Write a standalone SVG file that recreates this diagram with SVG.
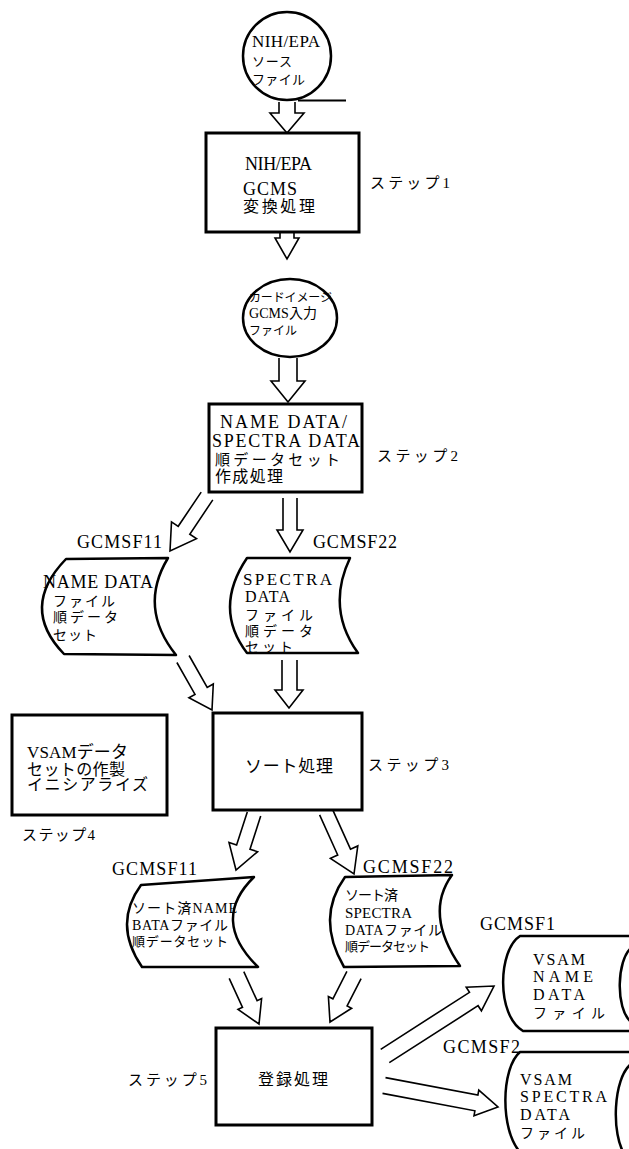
<svg xmlns="http://www.w3.org/2000/svg" width="629" height="1149" viewBox="0 0 629 1149">
<style>
text{font-family:"Liberation Serif","Noto Sans CJK JP",serif;fill:#000}
.box{fill:#fff;stroke:#000;stroke-width:3}
.cir{fill:#fff;stroke:#000;stroke-width:2.5}
.doc{fill:#fff;stroke:#000;stroke-width:2.5;stroke-linejoin:round}
.arr{fill:none;stroke:#000;stroke-width:1.6;stroke-linejoin:miter}
.ln{fill:none;stroke:#000;stroke-width:2}
</style>
<rect width="629" height="1149" fill="#fff"/>
<g id="connectors">
<polyline class="arr" points="279,102 279,113 270,113 287,133 304,113 295,113 295,102"/>
<polyline class="arr" points="280,233 280,238 275,238 287,259 299,238 294,238 294,233"/>
<polyline class="arr" points="279,358 279,381 271,381 288,402 305,381 297,381 297,358"/>
<polyline class="arr" points="212.8,499.9 189.8,534.2 196.5,538.7 170,551 171.5,521.9 178.2,526.3 201.2,492.1"/>
<polyline class="arr" points="283,498 283,530 277,530 290,552 303,530 297,530 297,498"/>
<polyline class="arr" points="189.1,655.5 207.2,687.4 213.3,684 212,710 188.9,697.8 195,694.4 176.9,662.5"/>
<polyline class="arr" points="282,660 282,690 275,690 289,708 303,690 297,690 297,660"/>
<polyline class="arr" points="260.7,816.1 250,849.2 257.6,851.7 236,870 229,842.5 236.6,845 247.3,811.9"/>
<polyline class="arr" points="332.4,809.1 350.5,849.2 357.8,845.9 354,874 330.4,858.3 337.7,855 319.6,814.9"/>
<polyline class="arr" points="243.8,971.7 257.1,1000.7 261.6,998.6 259,1024 238,1009.4 242.5,1007.3 229.2,978.3"/>
<polyline class="arr" points="361.1,978.6 347.1,1006 351.6,1008.3 330,1022 328.4,996.5 332.9,998.8 346.9,971.4"/>
<polyline class="arr" points="380.7,1049.3 469.5,992.3 466.2,987.2 494,986 481.4,1010.8 478.1,1005.7 389.3,1062.7"/>
<polyline class="arr" points="385.5,1077.6 477.9,1095 478.8,1090.1 498,1107 474,1115.7 474.9,1110.8 382.5,1093.4"/>
<line class="ln" x1="298" y1="100.5" x2="346" y2="100.5"/>
</g>
<g id="src">
<circle class="cir" cx="287" cy="56" r="44"/>
<text x="252" y="47" font-size="17" textLength="68">NIH/EPA</text>
<text x="252" y="66" font-size="13" textLength="40">ソース</text>
<text x="252" y="84" font-size="13" textLength="53">ファイル</text>
</g>
<g id="step1">
<rect class="box" x="206" y="133" width="153" height="99"/>
<text x="245" y="170" font-size="18" textLength="67">NIH/EPA</text>
<text x="243" y="195" font-size="18" textLength="54">GCMS</text>
<text x="243" y="212" font-size="16" textLength="72">変換処理</text>
<text x="370" y="188" font-size="15" textLength="80">ステップ1</text>
</g>
<g id="card">
<ellipse class="cir" cx="290" cy="318" rx="47" ry="39"/>
<text x="249" y="302" font-size="12" textLength="83">カードイメージ</text>
<text x="249" y="318" font-size="14" textLength="68">GCMS入力</text>
<text x="249" y="335" font-size="12" textLength="48">ファイル</text>
</g>
<g id="step2">
<rect class="box" x="209" y="404" width="153" height="88"/>
<text x="220" y="428" font-size="18" textLength="127">NAME DATA/</text>
<text x="212" y="447" font-size="18" textLength="148">SPECTRA DATA</text>
<text x="215" y="465" font-size="15" textLength="125">順データセット</text>
<text x="215" y="482" font-size="16" textLength="68">作成処理</text>
<text x="377" y="461" font-size="15" textLength="81">ステップ2</text>
</g>
<g id="f11a">
<text x="77" y="548" font-size="18" textLength="85">GCMSF11</text>
<path class="doc" d="M66,559 L168,558 Q138,607.5 176,655 L64,654 Q19,607.5 66,559 Z"/>
<text x="43" y="588" font-size="18" textLength="110">NAME DATA</text>
<text x="53" y="606" font-size="14" textLength="62">ファイル</text>
<text x="53" y="622" font-size="14" textLength="65">順データ</text>
<text x="53" y="640" font-size="14" textLength="44">セット</text>
</g>
<g id="f22a">
<text x="313" y="548" font-size="18" textLength="84">GCMSF22</text>
<path class="doc" d="M247,558 L350,558 Q326,608.5 358,653 L247,653 Q213,608.5 247,558 Z"/>
<text x="243" y="585" font-size="17" textLength="89">SPECTRA</text>
<text x="245" y="602" font-size="16" textLength="45">DATA</text>
<text x="245" y="620" font-size="14" textLength="68">ファイル</text>
<text x="245" y="636" font-size="14" textLength="68">順データ</text>
<text x="245" y="652" font-size="14" textLength="48">セット</text>
</g>
<g id="step3">
<rect class="box" x="213" y="713" width="149" height="97"/>
<text x="245" y="772" font-size="17" textLength="88">ソート処理</text>
<text x="368" y="770" font-size="15" textLength="81">ステップ3</text>
</g>
<g id="step4">
<rect class="box" x="12" y="715" width="155" height="100"/>
<text x="27" y="758" font-size="17" textLength="101">VSAMデータ</text>
<text x="27" y="775" font-size="16" textLength="98">セットの作製</text>
<text x="27" y="790" font-size="16" textLength="121">イニシアライズ</text>
<text x="22" y="840" font-size="15" textLength="73">ステップ4</text>
</g>
<g id="f11b">
<text x="112" y="875" font-size="18" textLength="85">GCMSF11</text>
<path class="doc" d="M141,885 L254,877 Q210,920 258,967 L142,967 Q112.5,924 141,885 Z"/>
<text x="132" y="913" font-size="14" textLength="105">ソート済NAME</text>
<text x="132" y="930" font-size="14" textLength="96">BATAファイル</text>
<text x="132" y="946" font-size="13" textLength="96">順データセット</text>
</g>
<g id="f22b">
<text x="363" y="873" font-size="18" textLength="90">GCMSF22</text>
<path class="doc" d="M345,877 L452,875 Q424,913.5 460,966 L344,967 Q315.5,918 345,877 Z"/>
<text x="345" y="900" font-size="14" textLength="53">ソート済</text>
<text x="345" y="918" font-size="15" textLength="67">SPECTRA</text>
<text x="345" y="935" font-size="14" textLength="97">DATAファイル</text>
<text x="345" y="951" font-size="13" textLength="85">順データセット</text>
</g>
<g id="step5">
<rect class="box" x="216" y="1028" width="156" height="97"/>
<text x="258" y="1085" font-size="16" textLength="70">登録処理</text>
<text x="128" y="1085" font-size="15" textLength="79">ステップ5</text>
</g>
<g id="vsam1">
<text x="480" y="930" font-size="18" textLength="75">GCMSF1</text>
<path class="doc" d="M632,936 L520,936 C498,950 496,1015 523,1031 L632,1031"/>
<path class="doc" d="M631,948 C617,960 615,1008 631,1022"/>
<text x="533" y="965" font-size="16" textLength="52">VSAM</text>
<text x="533" y="982" font-size="16" textLength="60">NAME</text>
<text x="533" y="1000" font-size="16" textLength="52">DATA</text>
<text x="533" y="1018" font-size="14" textLength="72">ファイル</text>
</g>
<g id="vsam2">
<text x="443" y="1053" font-size="18" textLength="77">GCMSF2</text>
<path class="doc" d="M632,1052 L520,1052 C501,1068 500,1130 520,1152"/>
<path class="doc" d="M631,1064 C613,1078 611,1135 625,1155"/>
<text x="520" y="1085" font-size="16" textLength="52">VSAM</text>
<text x="520" y="1102" font-size="16" textLength="87">SPECTRA</text>
<text x="520" y="1120" font-size="16" textLength="50">DATA</text>
<text x="520" y="1138" font-size="14" textLength="65">ファイル</text>
</g>
</svg>
